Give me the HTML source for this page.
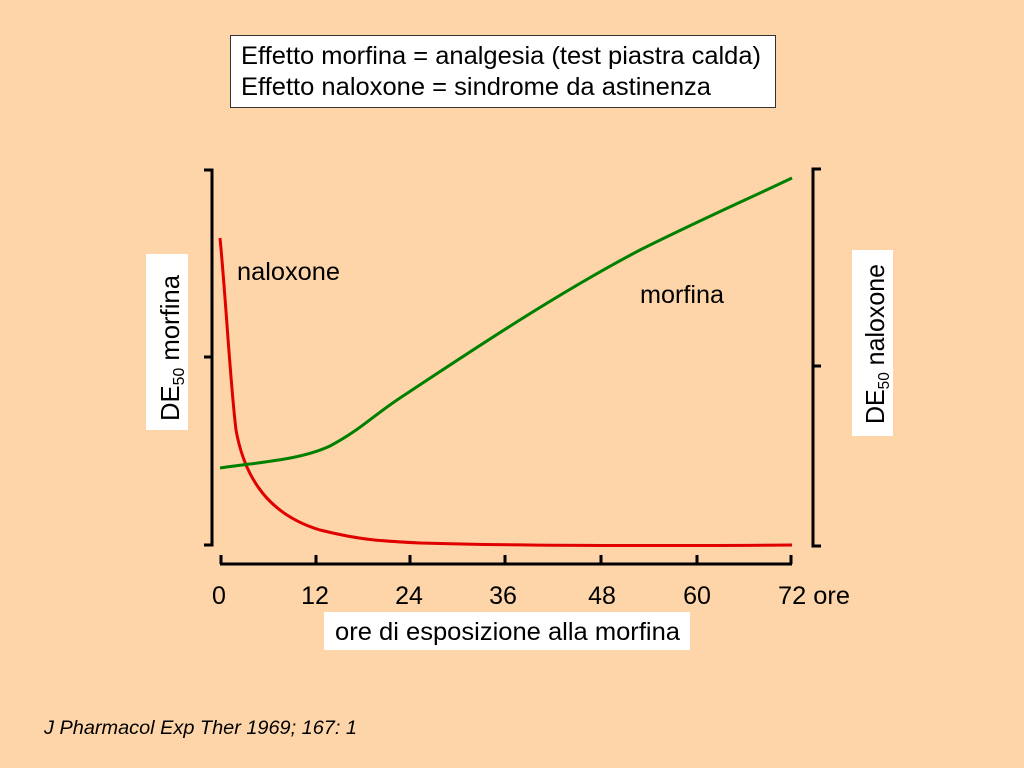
<!DOCTYPE html>
<html><head><meta charset="utf-8"><style>
html,body{margin:0;padding:0;background:#fdd5a9;}
svg{display:block;}
text{font-family:"Liberation Sans",sans-serif;fill:#000;}
</style></head><body>
<svg width="1024" height="768" viewBox="0 0 1024 768" xmlns="http://www.w3.org/2000/svg">
<rect width="1024" height="768" fill="#fdd5a9"/>
<rect x="230.5" y="35.5" width="545" height="72" fill="#fff" stroke="#333" stroke-width="1"/>
<text x="241" y="64" font-size="25" textLength="520" lengthAdjust="spacingAndGlyphs">Effetto morfina = analgesia (test piastra calda)</text>
<text x="241" y="95" font-size="25" textLength="470" lengthAdjust="spacingAndGlyphs">Effetto naloxone = sindrome da astinenza</text>
<g stroke="#000" stroke-width="3" fill="none">
<polyline points="204,170 212,170 212,545 204,545"/>
<line x1="204" y1="357" x2="212" y2="357"/>
<polyline points="821,169 813,169 813,546 821,546"/>
<line x1="813" y1="366" x2="821" y2="366"/>
<line x1="220" y1="564" x2="792" y2="564"/>
<line x1="221" y1="564" x2="221" y2="555"/>
<line x1="316" y1="564" x2="316" y2="555"/>
<line x1="410" y1="564" x2="410" y2="555"/>
<line x1="505" y1="564" x2="505" y2="555"/>
<line x1="601" y1="564" x2="601" y2="555"/>
<line x1="697" y1="564" x2="697" y2="555"/>
<line x1="791" y1="564" x2="791" y2="555"/>
</g>
<g font-size="25" text-anchor="middle">
<text x="219" y="604">0</text><text x="315" y="604">12</text><text x="409" y="604">24</text>
<text x="503" y="604">36</text><text x="602" y="604">48</text><text x="697" y="604">60</text>
<text x="778" y="604" text-anchor="start" textLength="72" lengthAdjust="spacingAndGlyphs">72 ore</text>
</g>
<rect x="324" y="612" width="366" height="38" fill="#fff"/>
<text x="335" y="640" font-size="25" textLength="345" lengthAdjust="spacingAndGlyphs">ore di esposizione alla morfina</text>
<rect x="146" y="254" width="42" height="176" fill="#fff"/>
<text transform="translate(179,421) rotate(-90)" font-size="26" textLength="146" lengthAdjust="spacingAndGlyphs">DE<tspan font-size="16" dy="5">50</tspan><tspan dy="-5"> morfina</tspan></text>
<rect x="852" y="250" width="41" height="186" fill="#fff"/>
<text transform="translate(884,424) rotate(-90)" font-size="26" textLength="160" lengthAdjust="spacingAndGlyphs">DE<tspan font-size="16" dy="5">50</tspan><tspan dy="-5"> naloxone</tspan></text>
<text x="237" y="280" font-size="25" textLength="103" lengthAdjust="spacingAndGlyphs">naloxone</text>
<text x="640" y="303" font-size="25" textLength="84" lengthAdjust="spacingAndGlyphs">morfina</text>
<path d="M220,238 C226,300 230,380 236,430 C245,480 270,515 320,530 C360,540 380,541 420,543 C520,546 650,546 792,545" stroke="#e00000" stroke-width="3" fill="none"/>
<path d="M220,468 C260,462 300,460 330,446 C360,430 370,418 400,398 C480,345 560,292 640,250 C700,220 750,198 792,178" stroke="#008000" stroke-width="3" fill="none"/>
<text x="44" y="734" font-size="19" font-style="italic" textLength="313" lengthAdjust="spacingAndGlyphs">J Pharmacol Exp Ther 1969; 167: 1</text>
</svg>
</body></html>
